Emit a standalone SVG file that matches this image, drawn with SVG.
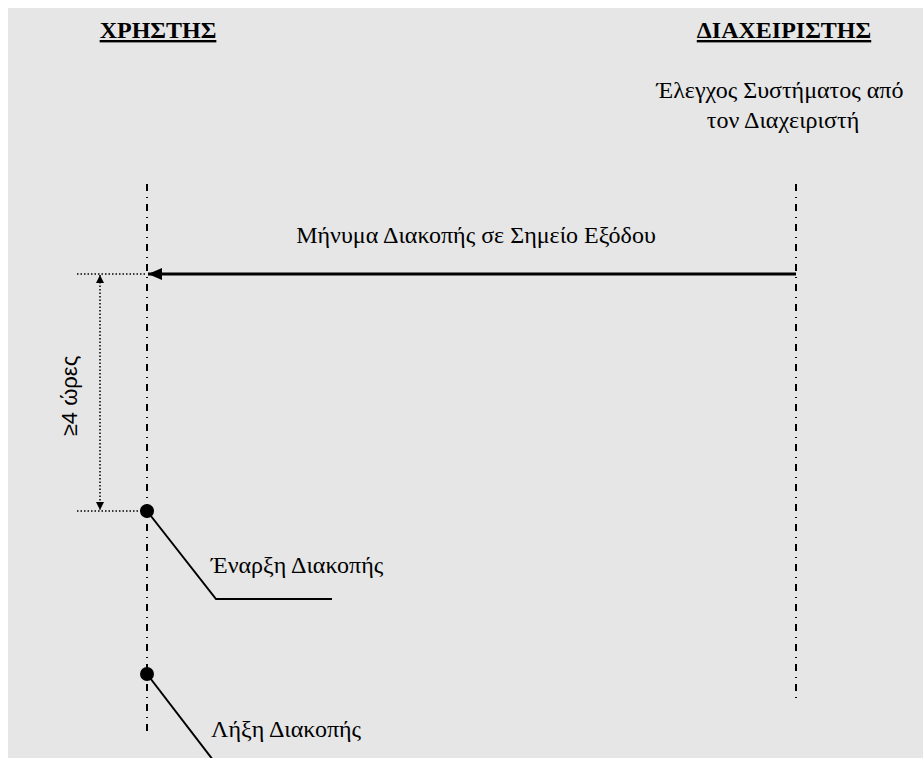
<svg xmlns="http://www.w3.org/2000/svg" width="923" height="758" viewBox="0 0 923 758">
<style>
.t{font-family:"Liberation Serif","Times New Roman",serif;font-size:24px;fill:#000}
.h{font-family:"Liberation Serif","Times New Roman",serif;font-size:24px;font-weight:bold;text-decoration:underline;fill:#000}
.s{font-family:"Liberation Sans",Arial,sans-serif;font-size:22px;fill:#000}
.life{stroke:#000;stroke-width:2;stroke-dasharray:7 6 1 6;fill:none}
.dot{stroke:#000;stroke-width:1.5;stroke-dasharray:1.5 2;fill:none}
.ln{stroke:#000;stroke-width:2;fill:none}
</style>
<defs>
<marker id="ah" markerWidth="14" markerHeight="12" refX="14" refY="6" orient="auto" markerUnits="userSpaceOnUse">
<path d="M0,0 L14,6 L0,12 Z" fill="#000"/>
</marker>
<marker id="sm" markerWidth="8" markerHeight="8" refX="8" refY="4" orient="auto-start-reverse" markerUnits="userSpaceOnUse">
<path d="M0,0 L8,4 L0,8 Z" fill="#000"/>
</marker>
</defs>
<rect x="8" y="8" width="915" height="750" fill="#e6e6e6"/>
<g id="user">
<text class="h" x="158" y="38" text-anchor="middle">ΧΡΗΣΤΗΣ</text>
<line class="life" x1="147" y1="184" x2="147" y2="736"/>
</g>
<g id="admin">
<text class="h" x="784" y="38" text-anchor="middle">ΔΙΑΧΕΙΡΙΣΤΗΣ</text>
<text class="t" x="780" y="98" text-anchor="middle">Έλεγχος Συστήματος από</text>
<text class="t" x="783" y="128" text-anchor="middle">τον Διαχειριστή</text>
<line class="life" x1="796" y1="184" x2="796" y2="700"/>
</g>
<g id="start">
<circle cx="147" cy="511" r="7" fill="#000"/>
<polyline class="ln" points="147,511 216,599 332,599"/>
<text class="t" x="211" y="573">Έναρξη Διακοπής</text>
</g>
<g id="end">
<circle cx="147" cy="674" r="7" fill="#000"/>
<line class="ln" x1="147" y1="674" x2="213" y2="760"/>
<text class="t" x="211" y="737">Λήξη Διακοπής</text>
</g>
<g id="duration">
<line class="dot" x1="77" y1="274" x2="147" y2="274"/>
<line class="dot" x1="77" y1="511" x2="147" y2="511"/>
<line class="dot" x1="100" y1="275" x2="100" y2="510" marker-start="url(#sm)" marker-end="url(#sm)"/>
<text class="s" transform="translate(77,396) rotate(-90)" text-anchor="middle">≥4 ώρες</text>
</g>
<g id="connectors">
<line x1="796" y1="274" x2="148" y2="274" stroke="#000" stroke-width="3" marker-end="url(#ah)"/>
<text class="t" x="476" y="243" text-anchor="middle">Μήνυμα Διακοπής σε Σημείο Εξόδου</text>
</g>
</svg>
